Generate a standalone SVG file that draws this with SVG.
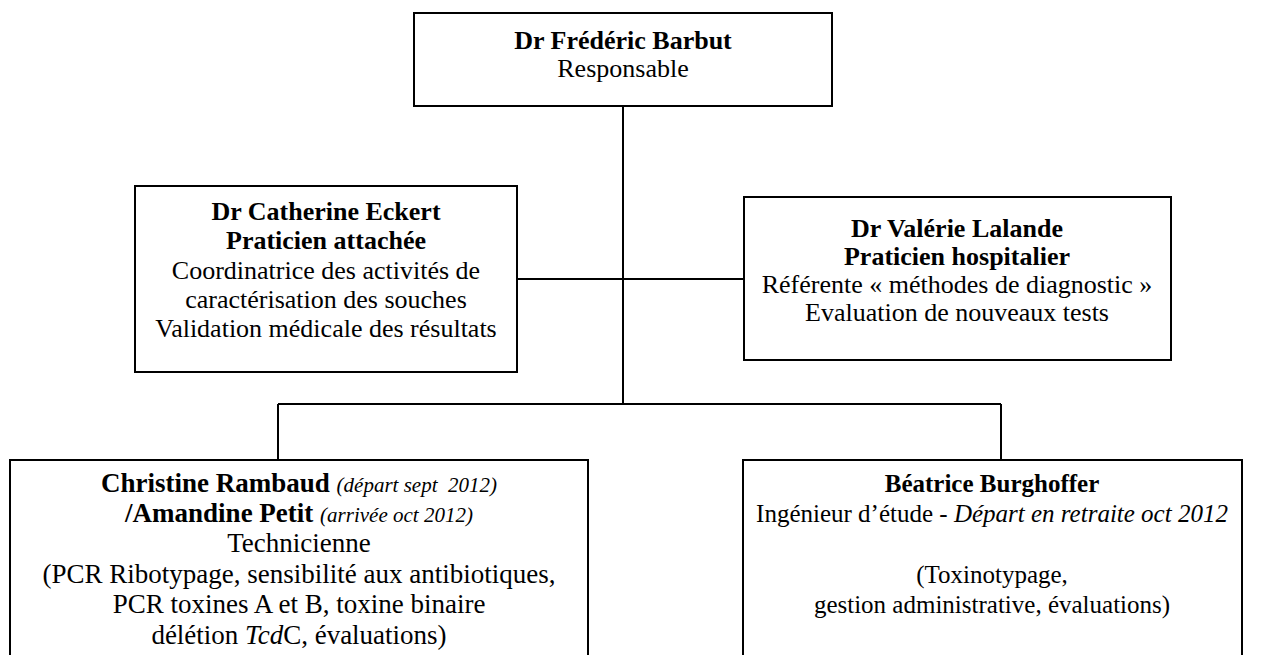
<svg xmlns="http://www.w3.org/2000/svg" width="1263" height="655" viewBox="0 0 1263 655">
<style>
.box{fill:#fff;stroke:#000;stroke-width:2}
.ln{stroke:#000;stroke-width:2;fill:none}
text{fill:#000;text-anchor:middle}
.b{font-weight:bold}
.it{font-style:italic}
.sm{font-style:italic;font-size:21px}
</style>
<rect width="1263" height="655" fill="#fff"/>
<g id="connectors">
<line class="ln" x1="623" y1="106" x2="623" y2="404"/>
<line class="ln" x1="517" y1="279" x2="744" y2="279"/>
<line class="ln" x1="278" y1="404" x2="1001" y2="404"/>
<line class="ln" x1="278" y1="404" x2="278" y2="460"/>
<line class="ln" x1="1001" y1="404" x2="1001" y2="460"/>
</g>
<g id="n-barbut" font-family="Liberation Serif, Times New Roman, serif" font-size="26">
<rect class="box" x="414" y="13" width="418" height="93"/>
<text x="623" y="49" font-family="Liberation Serif" class="b">Dr Frédéric Barbut</text>
<text x="623" y="77" font-family="Liberation Serif">Responsable</text>
</g>
<g id="n-eckert" font-family="Liberation Serif, Times New Roman, serif" font-size="26">
<rect class="box" x="135" y="186" width="382" height="186"/>
<text x="326" y="220" font-family="Liberation Serif" class="b">Dr Catherine Eckert</text>
<text x="326" y="249" font-family="Liberation Serif" class="b">Praticien attachée</text>
<text x="326" y="279" font-family="Liberation Serif">Coordinatrice des activités de</text>
<text x="326" y="308" font-family="Liberation Serif">caractérisation des souches</text>
<text x="326" y="337" font-family="Liberation Serif">Validation médicale des résultats</text>
</g>
<g id="n-lalande" font-family="Liberation Serif, Times New Roman, serif" font-size="26">
<rect class="box" x="744" y="197" width="427" height="163"/>
<text x="957" y="237" font-family="Liberation Serif" class="b">Dr Valérie Lalande</text>
<text x="957" y="265" font-family="Liberation Serif" class="b">Praticien hospitalier</text>
<text x="957" y="293" font-family="Liberation Serif">Référente « méthodes de diagnostic »</text>
<text x="957" y="321" font-family="Liberation Serif">Evaluation de nouveaux tests</text>
</g>
<g id="n-rambaud" font-family="Liberation Serif, Times New Roman, serif" font-size="27">
<rect class="box" x="10" y="460" width="578" height="210"/>
<text x="299" y="492" font-family="Liberation Serif" xml:space="preserve"><tspan class="b">Christine Rambaud</tspan> <tspan class="sm">(départ sept  2012)</tspan></text>
<text x="299" y="522" font-family="Liberation Serif"><tspan class="b">/Amandine Petit</tspan> <tspan class="sm">(arrivée oct 2012)</tspan></text>
<text x="299" y="552" font-family="Liberation Serif">Technicienne</text>
<text x="299" y="583" font-family="Liberation Serif">(PCR Ribotypage, sensibilité aux antibiotiques,</text>
<text x="299" y="613" font-family="Liberation Serif">PCR toxines A et B, toxine binaire</text>
<text x="299" y="644" font-family="Liberation Serif">délétion <tspan class="it">Tcd</tspan>C, évaluations)</text>
</g>
<g id="n-burghoffer" font-family="Liberation Serif, Times New Roman, serif" font-size="25">
<rect class="box" x="743" y="460" width="499" height="210"/>
<text x="992" y="492" font-family="Liberation Serif" class="b">Béatrice Burghoffer</text>
<text x="992" y="522" font-family="Liberation Serif">Ingénieur d’étude - <tspan class="it">Départ en retraite oct 2012</tspan></text>
<text x="992" y="583" font-family="Liberation Serif">(Toxinotypage,</text>
<text x="992" y="613" font-family="Liberation Serif">gestion administrative, évaluations)</text>
</g>
</svg>
